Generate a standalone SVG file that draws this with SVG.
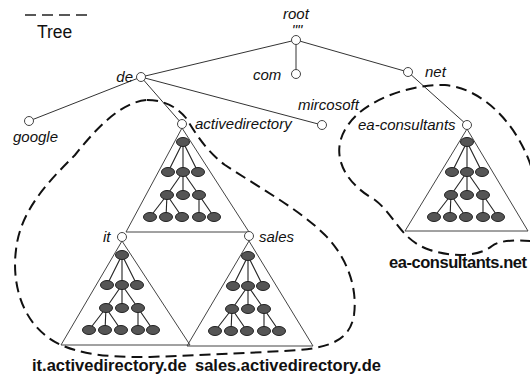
<svg xmlns="http://www.w3.org/2000/svg" xmlns:xlink="http://www.w3.org/1999/xlink" width="530" height="378" viewBox="0 0 530 378">
  <style>
    .edge { stroke: #333; stroke-width: 1; fill: none; }
    .tri { stroke: #444; stroke-width: 1; fill: none; }
    .node { fill: #fff; stroke: #444; stroke-width: 1; }
    .boundary { stroke: #111; stroke-width: 2; fill: none; stroke-dasharray: 11 6; }
    .lbl { font-family: "Liberation Sans", Arial, sans-serif; font-style: italic; font-size: 15px; fill: #111; }
    .dom { font-family: "Liberation Sans", Arial, sans-serif; font-weight: bold; font-size: 16.5px; fill: #111; }
    .leg { font-family: "Liberation Sans", Arial, sans-serif; font-size: 17.5px; fill: #111; }
    .mini line { stroke: #222; stroke-width: 1.1; }
    .mini ellipse { fill: #555; stroke: #222; stroke-width: 1; }
  </style>
  <defs>
    <!-- generic object hierarchy drawn inside each domain triangle -->
    <g id="minitree" class="mini">
      <line x1="0" y1="0" x2="-15" y2="30"/>
      <line x1="0" y1="0" x2="0" y2="30"/>
      <line x1="0" y1="0" x2="15" y2="30"/>
      <line x1="0" y1="30" x2="-16" y2="53"/>
      <line x1="0" y1="30" x2="0" y2="53"/>
      <line x1="0" y1="30" x2="16" y2="53"/>
      <line x1="-16" y1="53" x2="-33" y2="75"/>
      <line x1="-16" y1="53" x2="-17" y2="75"/>
      <line x1="-16" y1="53" x2="-1" y2="75"/>
      <line x1="16" y1="53" x2="16" y2="75"/>
      <line x1="16" y1="53" x2="31" y2="75"/>
      <ellipse cx="0" cy="0" rx="6.5" ry="4.5"/>
      <ellipse cx="-15" cy="30" rx="6.5" ry="4.5"/>
      <ellipse cx="0" cy="30" rx="6.5" ry="4.5"/>
      <ellipse cx="15" cy="30" rx="6.5" ry="4.5"/>
      <ellipse cx="-16" cy="53" rx="6.5" ry="4.5"/>
      <ellipse cx="0" cy="53" rx="6.5" ry="4.5"/>
      <ellipse cx="16" cy="53" rx="6.5" ry="4.5"/>
      <ellipse cx="-33" cy="75" rx="6.5" ry="4.5"/>
      <ellipse cx="-17" cy="75" rx="6.5" ry="4.5"/>
      <ellipse cx="-1" cy="75" rx="6.5" ry="4.5"/>
      <ellipse cx="16" cy="75" rx="6.5" ry="4.5"/>
      <ellipse cx="31" cy="75" rx="6.5" ry="4.5"/>
    </g>
  </defs>

  <rect width="530" height="378" fill="#fff"/>

  <!-- legend -->
  <g id="legend">
    <line x1="25" y1="15" x2="88" y2="15" stroke="#222" stroke-width="1.6" stroke-dasharray="11 6"/>
    <text class="leg" x="37" y="38">Tree</text>
  </g>

  <!-- namespace connectors -->
  <g id="connectors">
    <line class="edge" x1="296" y1="40" x2="141" y2="77"/>
    <line class="edge" x1="296" y1="40" x2="296" y2="74"/>
    <line class="edge" x1="296" y1="40" x2="408" y2="72"/>
    <line class="edge" x1="141" y1="77" x2="29" y2="121"/>
    <line class="edge" x1="141" y1="77" x2="182" y2="124"/>
    <line class="edge" x1="141" y1="77" x2="322" y2="125"/>
    <line class="edge" x1="408" y1="72" x2="467" y2="125"/>
  </g>

  <!-- domain triangles with their object trees -->
  <g id="domain-activedirectory">
    <polygon class="tri" points="182,128 126,232 249,232"/>
    <use xlink:href="#minitree" x="183" y="142"/>
  </g>
  <g id="domain-it">
    <polygon class="tri" points="122,241 61,345 190,345"/>
    <use xlink:href="#minitree" x="122" y="255"/>
  </g>
  <g id="domain-sales">
    <polygon class="tri" points="249,241 187,346 313,346"/>
    <use xlink:href="#minitree" x="248" y="256"/>
  </g>
  <g id="domain-ea">
    <polygon class="tri" points="467,129 405,231 528,231"/>
    <use xlink:href="#minitree" x="467" y="142"/>
  </g>

  <!-- tree boundaries -->
  <g id="trees">
    <path class="boundary" d="M147,100 C165,100 178,108 186,118 C195,132 205,150 225,165 C260,188 300,210 325,235 C345,255 358,285 354,315 C350,340 330,347 300,350 C250,353 200,355 150,357 C100,358 65,352 45,335 C20,315 12,280 16,250 C20,210 50,180 75,155 C95,130 120,102 147,100 Z"/>
    <path class="boundary" d="M531,166 C515,120 480,88 445,85 C410,84 365,100 348,125 C330,150 340,180 375,200 C395,215 400,240 430,250 C455,258 480,256 492,246 C500,240 515,240 531,241"/>
  </g>

  <!-- namespace nodes -->
  <g id="root">
    <circle class="node" cx="296" cy="40" r="4.5"/>
    <text class="lbl" x="283" y="19">root</text>
    <text class="lbl" x="297" y="35" font-size="11" text-anchor="middle">""</text>
  </g>
  <g id="de">
    <circle class="node" cx="141" cy="77" r="4.5"/>
    <text class="lbl" x="133" y="82" text-anchor="end">de</text>
  </g>
  <g id="com">
    <circle class="node" cx="296" cy="74" r="4.5"/>
    <text class="lbl" x="253" y="80">com</text>
  </g>
  <g id="net">
    <circle class="node" cx="408" cy="72" r="4.5"/>
    <text class="lbl" x="425" y="77">net</text>
  </g>
  <g id="google">
    <circle class="node" cx="29" cy="121" r="4.5"/>
    <text class="lbl" x="13" y="142">google</text>
  </g>
  <g id="activedirectory">
    <circle class="node" cx="182" cy="124" r="4.5"/>
    <text class="lbl" x="195" y="129">activedirectory</text>
  </g>
  <g id="mircosoft">
    <circle class="node" cx="322" cy="125" r="4.5"/>
    <text class="lbl" x="298" y="110">mircosoft</text>
  </g>
  <g id="ea-consultants">
    <circle class="node" cx="467" cy="125" r="4.5"/>
    <text class="lbl" x="358" y="130">ea-consultants</text>
  </g>
  <g id="it">
    <circle class="node" cx="122" cy="237" r="4.5"/>
    <text class="lbl" x="103" y="242">it</text>
  </g>
  <g id="sales">
    <circle class="node" cx="249" cy="236" r="4.5"/>
    <text class="lbl" x="259" y="242">sales</text>
  </g>

  <!-- domain names -->
  <g id="domain-labels">
    <text class="dom" x="32" y="371">it.activedirectory.de</text>
    <text class="dom" x="195" y="371">sales.activedirectory.de</text>
    <text class="dom" x="389" y="268" textLength="138">ea-consultants.net</text>
  </g>
</svg>
